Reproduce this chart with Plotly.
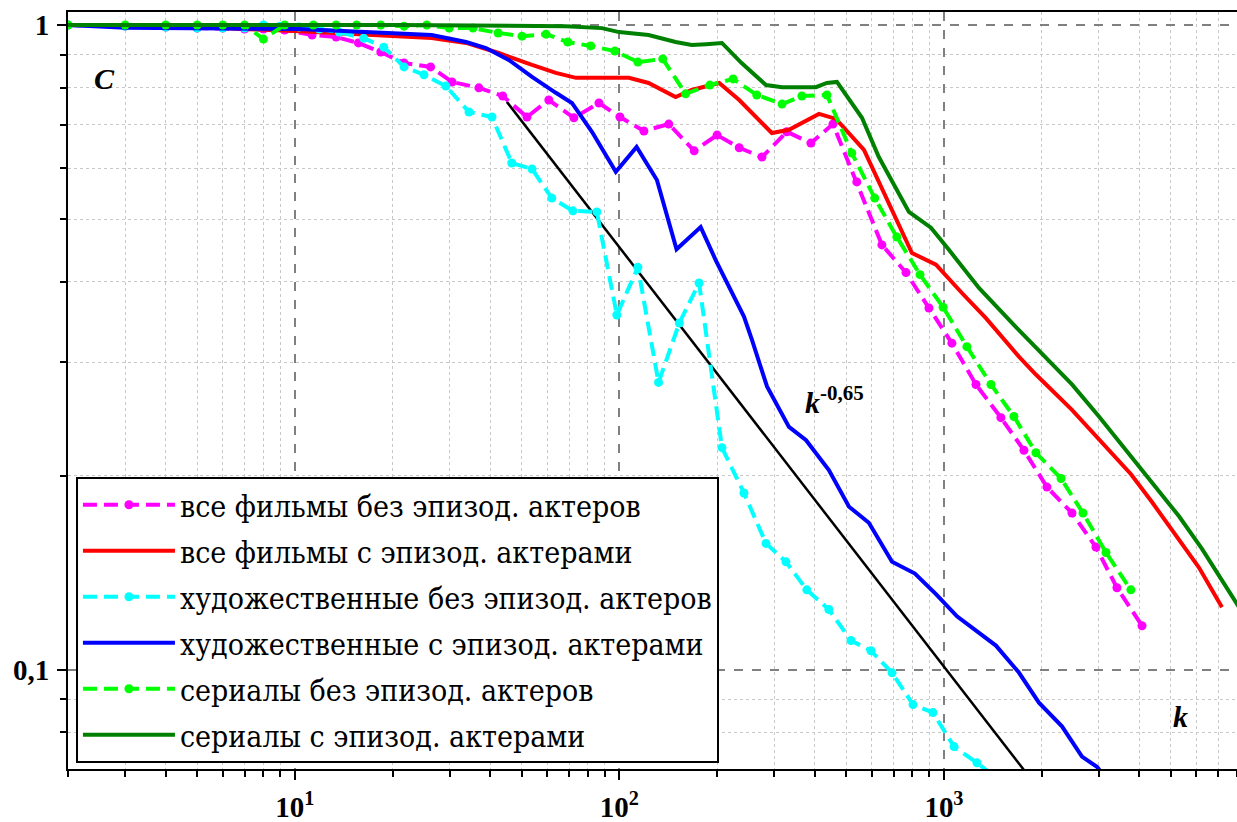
import plotly.graph_objects as go

# ---- data (k, C) ----
mag_k = [2, 3, 4, 5, 6, 7, 8, 9.3, 11.3, 13.4, 15.7, 18.4, 21.7, 26.2, 30.5, 36.9, 43.7, 51.9, 60.6, 72.4,
         86.5, 100.4, 119, 142, 170, 200, 234, 275, 328, 389, 455, 539, 644, 764, 899, 1058, 1255, 1498,
         1764, 2077, 2480, 2940, 3413, 4076]
mag_c = [1.0, 0.996, 0.993, 0.989, 0.989, 0.986, 0.986, 0.982, 0.965, 0.958, 0.938, 0.908, 0.873, 0.861,
         0.816, 0.799, 0.776, 0.720, 0.765, 0.718, 0.757, 0.720, 0.685, 0.702, 0.638, 0.675, 0.645, 0.624,
         0.683, 0.656, 0.702, 0.571, 0.456, 0.413, 0.364, 0.321, 0.277, 0.246, 0.219, 0.192, 0.175, 0.155,
         0.134, 0.117]

red_k = [2, 5, 10, 20.9, 26.4, 33.7, 42.5, 53.8, 63.7, 73.5, 107, 123, 149, 167, 203, 234, 263, 295, 333,
         412, 465, 567, 797, 945, 1136, 1347, 1702, 1920, 2480, 3069, 3770, 4375, 5187, 6107, 7190]
red_c = [1.0, 0.993, 0.979, 0.961, 0.955, 0.938, 0.905, 0.867, 0.843, 0.828, 0.828, 0.813, 0.773, 0.793,
         0.813, 0.765, 0.720, 0.680, 0.688, 0.728, 0.715, 0.640, 0.443, 0.425, 0.384, 0.351, 0.306, 0.287,
         0.253, 0.225, 0.201, 0.182, 0.161, 0.144, 0.125]

cyan_k = [2, 3, 4, 5, 6, 7, 8, 9, 10.3, 11.9, 13.7, 16.3, 18.8, 21.7, 25.0, 29.2, 34.4, 40.5, 46.6, 53.8,
          61.9, 71.9, 85.2, 98.2, 114, 132, 153, 176, 207, 242, 283, 326, 378, 442, 517, 596, 692, 803,
          925, 1074, 1264, 1477]
cyan_c = [1.0, 0.996, 0.993, 0.989, 0.989, 0.989, 1.0, 0.996, 0.993, 0.986, 0.975, 0.954, 0.924, 0.861,
          0.837, 0.804, 0.733, 0.720, 0.611, 0.598, 0.539, 0.515, 0.513, 0.355, 0.421, 0.279, 0.345, 0.398,
          0.221, 0.188, 0.157, 0.147, 0.133, 0.124, 0.111, 0.107, 0.0989, 0.0883, 0.0858, 0.0760, 0.0717,
          0.0675]

blue_k = [2, 3, 10.3, 20.9, 26.4, 33.7, 38.8, 45.6, 53.8, 63.7, 71.4, 82.3, 97.5, 113, 130.5, 150, 178,
          198, 222, 242, 256, 285, 333, 376, 442, 510, 587, 692, 814, 945, 1097, 1255, 1446, 1702, 1962,
          2310, 2663, 2961, 3225]
blue_c = [1.0, 0.99, 0.986, 0.972, 0.965, 0.941, 0.921, 0.883, 0.831, 0.785, 0.757, 0.683, 0.592, 0.647,
          0.575, 0.449, 0.486, 0.432, 0.384, 0.353, 0.325, 0.275, 0.238, 0.227, 0.204, 0.179, 0.169, 0.147,
          0.141, 0.131, 0.121, 0.115, 0.109, 0.0990, 0.0889, 0.0817, 0.0733, 0.0707, 0.0670]

lime_k = [2, 3, 4, 5, 6, 7, 8, 9.3, 11.4, 13.4, 15.5, 18.4, 21.7, 25.5, 29.9, 35.4, 42.3, 50.1, 59.4, 69.3,
          81.6, 96.8, 114, 136, 160, 190, 224, 265, 317, 365, 436, 520, 612, 716, 844, 994, 1177, 1396,
          1643, 1921, 2295, 2682, 3157, 3767]
lime_c = [1.0, 1.0, 1.0, 1.0, 1.0, 1.0, 0.951, 1.0, 1.0, 1.0, 1.0, 1.0, 0.996, 1.0, 0.989, 0.989, 0.972,
          0.961, 0.968, 0.941, 0.928, 0.911, 0.876, 0.886, 0.782, 0.807, 0.825, 0.779, 0.754, 0.776, 0.779,
          0.633, 0.539, 0.469, 0.410, 0.365, 0.317, 0.277, 0.247, 0.217, 0.198, 0.175, 0.152, 0.133]

dgreen_k = [2, 21, 68.4, 88.3, 99.7, 123, 149, 167, 185, 207, 238, 283, 317, 403, 436, 468, 559, 630, 780,
            912, 1036, 1282, 1667, 1962, 2480, 3004, 3664, 4375, 5300, 6240, 8113]
dgreen_c = [1.0, 1.0, 0.996, 0.989, 0.975, 0.965, 0.941, 0.931, 0.934, 0.938, 0.873, 0.807, 0.801, 0.801,
            0.813, 0.816, 0.718, 0.624, 0.513, 0.485, 0.448, 0.391, 0.340, 0.313, 0.277, 0.247, 0.218, 0.195,
            0.173, 0.154, 0.125]

fit_k = [45, 1760]
fit_c = [0.76, 0.070]

names = ["все фильмы без эпизод. актеров", "все фильмы с эпизод. актерами",
         "художественные без эпизод. актеров", "художественные с эпизод. актерами",
         "сериалы без эпизод. актеров", "сериалы с эпизод. актерами"]

SERIF = "'Liberation Serif', 'Times New Roman', 'DejaVu Serif', serif"
LEG_FONT = "'DejaVu Serif Condensed', 'DejaVu Serif', serif"

fig = go.Figure()

fig.add_trace(go.Scatter(x=fit_k, y=fit_c, mode="lines", line=dict(color="black", width=2.5),
                         showlegend=False, hoverinfo="skip"))

series = [
    (mag_k, mag_c, "#FF00FF", True),
    (red_k, red_c, "#FF0000", False),
    (cyan_k, cyan_c, "#00FFFF", True),
    (blue_k, blue_c, "#0000FF", False),
    (lime_k, lime_c, "#00FF00", True),
    (dgreen_k, dgreen_c, "#008000", False),
]
for i, (kx, cy, col, dashed) in enumerate(series):
    if dashed:
        fig.add_trace(go.Scatter(x=kx, y=cy, name=names[i], mode="lines+markers",
                                 line=dict(color=col, width=4, dash="14px,7px"),
                                 marker=dict(color=col, size=9, symbol="circle"),
                                 legendgroup=f"g{i}"))
    else:
        fig.add_trace(go.Scatter(x=kx, y=cy, name=names[i], mode="lines",
                                 line=dict(color=col, width=4),
                                 legendgroup=f"g{i}"))

x_minor = [m * d for d in (1, 10, 100, 1000) for m in range(2, 10)]
y_minor = [m * d for d in (0.01, 0.1) for m in range(2, 10)]

axis_common = dict(
    type="log",
    showline=True, linecolor="black", linewidth=2,
    ticks="outside", ticklen=9, tickwidth=2, tickcolor="black",
    showgrid=True, gridcolor="#808080", gridwidth=1.5, griddash="dash",
    tickfont=dict(family=SERIF, size=29, color="black", weight="bold"),
    zeroline=False,
)

fig.update_xaxes(
    **axis_common,
    range=[0.301, 3.903],
    tickvals=[10, 100, 1000],
    ticktext=["10<sup>1</sup>", "10<sup>2</sup>", "10<sup>3</sup>"],
    mirror=True,
    ticklabelstandoff=2,
    minor=dict(tickvals=x_minor, ticks="outside", ticklen=6, tickwidth=1.5, tickcolor="black",
               showgrid=True, gridcolor="#c8c8c8", gridwidth=1.2, griddash="dot"),
)
fig.update_yaxes(
    **axis_common,
    range=[-1.154, 0.0202],
    tickvals=[0.1, 1],
    ticktext=["0,1", "1"],
    ticklabelstandoff=2,
    minor=dict(tickvals=y_minor, ticks="outside", ticklen=6, tickwidth=1.5, tickcolor="black",
               showgrid=True, gridcolor="#c8c8c8", gridwidth=1.2, griddash="dot"),
)

fig.add_annotation(x=0.0205, y=0.9366, xref="paper", yref="paper", text="<b><i>C</i></b>",
                   showarrow=False, font=dict(family=SERIF, size=30, color="black"))
fig.add_annotation(x=0.9598, y=0.0449, xref="paper", yref="paper", text="<b><i>k</i></b>",
                   showarrow=False, font=dict(family=SERIF, size=30, color="black"))
fig.add_annotation(x=0.656, y=0.4875, xref="paper", yref="paper",
                   text="<b><i>k</i></b><b><sup>-0,65</sup></b>",
                   showarrow=False, font=dict(family=SERIF, size=30, color="black"))

fig.update_layout(
    width=1237, height=822,
    margin=dict(l=68, r=0, t=12, b=53),
    paper_bgcolor="white", plot_bgcolor="white",
    showlegend=True,
    legend=dict(x=0.0068, y=0.386, xanchor="left", yanchor="top",
                bgcolor="white", bordercolor="black", borderwidth=2,
                font=dict(family=LEG_FONT, size=30, color="black"),
                tracegroupgap=4, itemwidth=92),
)

fig.write_html("out.html")
